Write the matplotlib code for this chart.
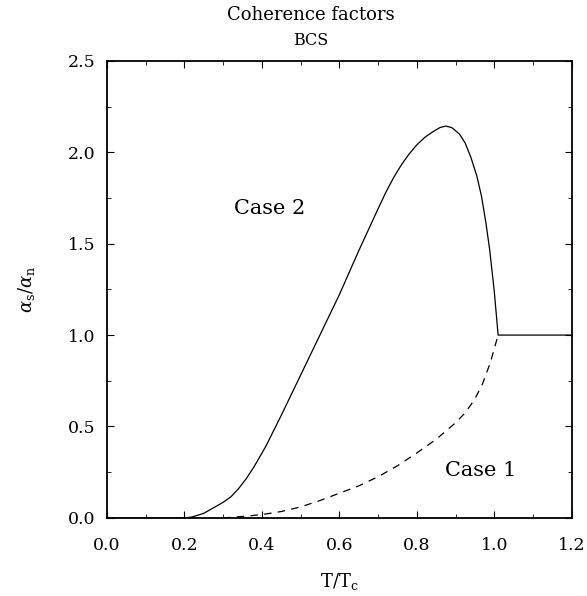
import matplotlib
matplotlib.use("Agg")
import matplotlib.pyplot as plt
from matplotlib.ticker import MultipleLocator

plt.rcParams['font.family'] = ['DejaVu Serif']
plt.rcParams['mathtext.fontset'] = 'dejavuserif'

# Case 2 (solid)
t_case2 = [0.0, 0.2, 0.22, 0.25, 0.275, 0.3, 0.32, 0.34, 0.36, 0.38, 0.41, 0.45,
           0.5, 0.55, 0.6, 0.65, 0.7, 0.72, 0.74, 0.76, 0.78, 0.8, 0.82, 0.84,
           0.86, 0.875, 0.89, 0.91, 0.925, 0.94, 0.955, 0.967, 0.978, 0.988,
           1.0, 1.01, 1.2]
a_case2 = [0.0, 0.0, 0.005, 0.025, 0.055, 0.085, 0.115, 0.16, 0.215, 0.28, 0.39, 0.56,
           0.78, 1.0, 1.22, 1.46, 1.69, 1.78, 1.86, 1.93, 1.99, 2.04, 2.08, 2.11,
           2.135, 2.143, 2.135, 2.1, 2.05, 1.97, 1.87, 1.76, 1.62, 1.47,
           1.24, 1.0, 1.0]

# Case 1 (dashed)
t_case1 = [0.3, 0.35, 0.4, 0.45, 0.5, 0.55, 0.6, 0.65, 0.7, 0.75, 0.8, 0.85,
           0.9, 0.925, 0.95, 0.97, 0.99, 1.01]
a_case1 = [0.0, 0.008, 0.018, 0.035, 0.06, 0.095, 0.135, 0.175, 0.225, 0.285, 0.355,
           0.43, 0.52, 0.575, 0.65, 0.735, 0.85, 1.0]

fig = plt.figure(figsize=(5.87, 5.96), dpi=100)
ax = fig.add_axes([0.182, 0.131, 0.792, 0.767])

ax.plot(t_case2, a_case2, color='black', lw=0.9)
ax.plot(t_case1, a_case1, color='black', lw=0.9, ls=(0, (6, 5)))

ax.set_xlim(0, 1.2)
ax.set_ylim(0, 2.5)
ax.xaxis.set_major_locator(MultipleLocator(0.2))
ax.xaxis.set_minor_locator(MultipleLocator(0.1))
ax.yaxis.set_major_locator(MultipleLocator(0.5))
ax.yaxis.set_minor_locator(MultipleLocator(0.25))
ax.xaxis.set_major_formatter(plt.FormatStrFormatter('%.1f'))
ax.yaxis.set_major_formatter(plt.FormatStrFormatter('%.1f'))
ax.tick_params(which='both', direction='in', top=True, right=True, labelsize=12.5)
ax.tick_params(which='major', length=5, width=0.8)
ax.tick_params(axis='x', which='major', pad=14)
ax.tick_params(axis='y', which='major', pad=8)
ax.tick_params(which='minor', length=3, width=0.6)
for s in ax.spines.values():
    s.set_linewidth(1.3)

ax.set_xlabel(r'T/T$_\mathrm{c}$', fontsize=13, labelpad=12)
ax.set_ylabel(r'$\alpha_\mathrm{s}/\alpha_\mathrm{n}$', fontsize=13, labelpad=22)

ax.text(0.42, 1.69, 'Case 2', fontsize=15, ha='center', va='center')
ax.text(0.965, 0.26, 'Case 1', fontsize=15, ha='center', va='center')

fig.text(0.53, 0.975, 'Coherence factors', fontsize=13, ha='center', va='center')
fig.text(0.53, 0.932, 'BCS', fontsize=11.5, ha='center', va='center')

fig.savefig('out.png', dpi=100)
